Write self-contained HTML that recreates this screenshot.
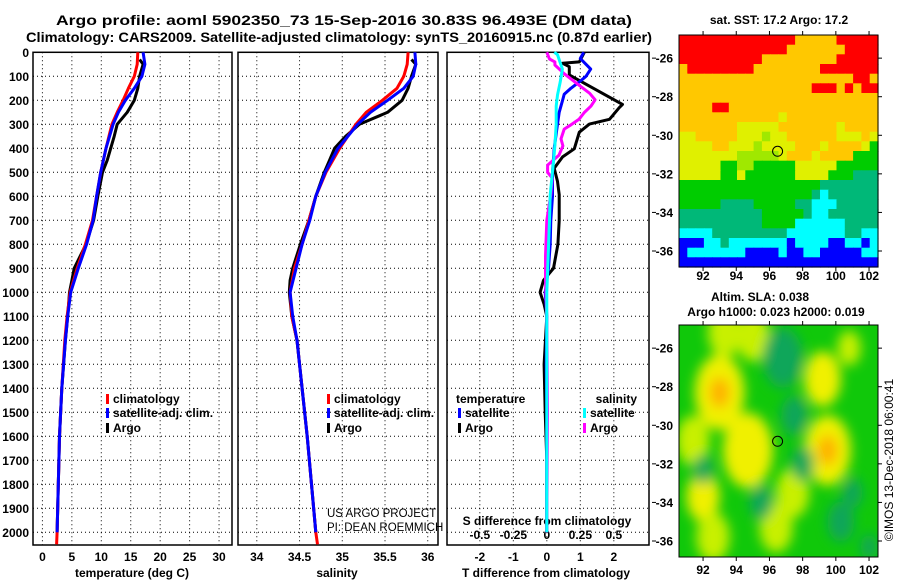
<!DOCTYPE html>
<html><head><meta charset="utf-8"><style>
body{margin:0;background:#fff}
svg{display:block;font-family:"Liberation Sans",Arial,sans-serif;font-weight:bold}
</style></head><body>
<svg id="fig" width="900" height="580" viewBox="0 0 900 580" xmlns="http://www.w3.org/2000/svg">
<defs>
<filter id="blur" x="-50%" y="-50%" width="200%" height="200%"><feGaussianBlur stdDeviation="6"/></filter>
<clipPath id="clipM2"><rect x="679" y="325" width="199" height="232"/></clipPath>
</defs>
<text x="344" y="25" text-anchor="middle" font-size="13.5" textLength="576" lengthAdjust="spacingAndGlyphs">Argo profile: aoml 5902350_73 15-Sep-2016 30.83S 96.493E (DM data)</text>
<text x="339" y="42" text-anchor="middle" font-size="13.5" textLength="626" lengthAdjust="spacingAndGlyphs">Climatology: CARS2009. Satellite-adjusted climatology: synTS_20160915.nc (0.87d earlier)</text>
<text x="779" y="24" text-anchor="middle" font-size="12">sat. SST: 17.2 Argo: 17.2</text>
<text x="760" y="301" text-anchor="middle" font-size="12">Altim. SLA: 0.038</text>
<text x="776" y="316" text-anchor="middle" font-size="12">Argo h1000: 0.023 h2000: 0.019</text>
<text transform="translate(893,460) rotate(-90)" text-anchor="middle" font-size="12" font-weight="normal">©IMOS 13-Dec-2018 06:00:41</text>
<g id="layer"></g>
</svg>
<script>
// ---- profile data ----
const depthClim=[0,50,100,150,200,250,300,400,500,600,700,800,900,1000,1100,1200,1400,1600,1800,2000,2050];
const climT=[16.2,16.1,15.6,14.6,13.7,12.7,11.8,10.8,9.9,9.2,8.5,7.3,5.9,4.7,4.2,3.8,3.3,2.9,2.7,2.5,2.4];
const satT=[17.1,17.4,16.9,15.6,14.1,12.9,12.0,10.8,9.9,9.2,8.6,7.5,6.1,4.8,4.3,3.9,3.3,2.9,2.7,2.5];
const depthArgo=[30,50,100,150,200,250,300,350,400,450,500,600,700,800,900,950,1000,1100,1200,1400,1600,1800,2000];
const argoT=[16.5,17.1,16.5,16.2,15.6,14.4,12.7,12.2,11.6,11.0,10.2,9.4,8.7,7.4,5.4,5.0,4.6,4.3,3.9,3.3,2.9,2.7,2.5];
const climS=[35.77,35.76,35.72,35.64,35.47,35.28,35.16,34.97,34.81,34.69,34.61,34.53,34.44,34.39,34.41,34.47,34.53,34.59,34.64,34.69,34.71];
const satS=[35.85,35.86,35.83,35.72,35.53,35.33,35.18,34.95,34.80,34.69,34.62,34.53,34.46,34.39,34.42,34.47,34.53,34.59,34.64,34.69];
const argoS=[35.81,35.86,35.81,35.77,35.70,35.53,35.20,35.04,34.91,34.85,34.79,34.69,34.61,34.51,34.42,34.39,34.38,34.41,34.47,34.53,34.59,34.64,34.69];
const depthSatTd=[0,26,50,70,100,120,150,175,200,250,300,400,500,600,700,800,900,1000,1100,1300,1500,1700,2000];
const satTdiff=[1.1,1.0,1.17,1.31,1.17,1.0,0.72,0.52,0.47,0.37,0.32,0.22,0.17,0.17,0.12,0.1,0.05,-0.05,0,-0.02,0,0,0];
const depthArgoTd=[0,40,46,60,94,217,231,279,299,333,402,436,483,538,593,702,800,900,950,1000,1050,1100,1300,1500,1700,2000];
const argoTdiff=[1.12,0.97,0.47,0.67,0.67,2.26,2.16,1.87,1.27,0.97,0.82,0.47,0.22,0.32,0.37,0.37,0.33,0.2,-0.1,-0.2,-0.08,0,-0.08,-0.05,0,0];
const depthArgoSd=[0,28,40,53,89,137,171,198,224,251,279,306,320,361,390,429,470,500,524,593,700,850,950,1100,1500,2000];
const argoSdiff=[0,0.02,0.06,0.06,0.13,0.24,0.32,0.36,0.33,0.28,0.24,0.17,0.13,0.106,0.12,0.09,0.006,0.006,0.04,0.03,0,-0.01,-0.01,0,0.005,0];
const depthSatSd=[0,10,70,124,178,224,300,388,456,593,700,1000,1500,2000];
const satSdiff=[0.056,0.08,0.116,0.10,0.08,0.07,0.07,0.06,0.05,0.025,0.02,0,0,0];
const depthTicks=[0,100,200,300,400,500,600,700,800,900,1000,1100,1200,1300,1400,1500,1600,1700,1800,1900,2000];
const tTicks=[0,5,10,15,20,25,30];
const sTicks=[34,34.5,35,35.5,36];
const sTickLabels=["34","34.5","35","35.5","36"];
const dTTicks=[-2,-1,0,1,2];
const dSTicks=[-0.5,-0.25,0,0.25,0.5];
const dSTickLabels=["-0.5","-0.25","0","0.25","0.5"];
// ---- map data ----
const lonTicks=[92,94,96,98,100,102];
const latTicks=[-26,-28,-30,-32,-34,-36];
const sstRows=[
"RRRRRRRRRRRRRROOOOORRRRR",
"RRRRRRRRRRRRROOOOOOORRRR",
"RRRRRRRRRROOOOOOOOORRRRR",
"ORRRRRRRROOOOOOOORRRRRRR",
"OOOOOOOOOOOOOOOOOOOOORRO",
"OOOOOOOOOOOOOOOORRRORORR",
"OOOOOOOOOOOOOOOOOOOOOOOO",
"OOOORROOOOOOOOOOOOOOOOOO",
"OOOOOOOOOOOOYOOOOOOOOOOO",
"OOOOOOOYYYYYOOOOOOOYOOOO",
"YYOOOOOYYYLYYOOOOOOYYYOY",
"YYYYOOYYYLYYYYOOOYOOOOYG",
"YYYYYYYLLLLLYOOOYOOOOGGG",
"YYYYYGGLLGGGGGYYYYYGGGGG",
"YYYYYGGYGGGGGGYYYYGGGTTT",
"GGGGGGGGGGGGGGGGGTTTTTTT",
"GGGGGGGGGGGGGGGGTCTTTTTT",
"GGGGGTTTTGGGGGTTCCCTTTTT",
"TTTTTTTTTTGGGGGTCCTTTTTT",
"TTTTTTTTTTGGGGCCCCCCTTTT",
"CCCCTTTTTTTTTCCCCCCCTTCC",
"BBBCCTCCCCCCCBCCCCBBCCBC",
"BCCCCCCCBBBBCBBCCBBBBBCC",
"BBBBBBBBBBBBBBBBBBBBBBBB"];
const slaBlobLon=[93,93,94.7,94.7,99.5,99.5,99.2,92,91.4,93.3,95,97.4,100.8,96.4,92.6,97.5,98,95.5,92,102,101,96.8,100.3];
const slaBlobLat=[-28.3,-28.3,-31.3,-31.3,-31.3,-31.3,-27.6,-33.7,-30.8,-25.2,-25.4,-33.5,-26,-35.3,-35.8,-29.5,-32,-34,-32.3,-36.3,-33.5,-26.5,-35];
const slaBlobVal=[0.6,0.9,0.6,0.7,0.6,0.9,0.6,0.6,0.5,0.55,0.55,0.5,0.4,0.5,0.4,-0.6,-0.5,-0.6,-0.5,-0.6,-0.4,-0.35,-0.3];
const slaBlobSize=[1.5,0.6,1.5,0.7,1.4,0.6,1.1,1.0,1.0,1.0,1.0,1.0,0.7,1.0,1.0,0.8,0.7,0.7,0.6,0.5,0.6,1.2,0.8];
const argoLon=96.49, argoLat=-30.83;

const NS="http://www.w3.org/2000/svg";
const L=document.getElementById('layer');
function mk(tag,at,parent){const e=document.createElementNS(NS,tag);for(const k in at)e.setAttribute(k,at[k]);(parent||L).appendChild(e);return e;}
const yTop=52.3, pxPer100=24.0, yBot=545;
const yD=d=>Math.min(yBot,yTop+d*pxPer100/100);
const panels=[
 {x0:33,x1:232,v0:-1.6,v1:32.2,name:'temperature'},
 {x0:238,x1:438,v0:33.78,v1:36.12,name:'salinity'},
 {x0:447,x1:649,v0:-2.98,v1:3.05,name:'difference'}];
function sx(p,v){return p.x0+(v-p.v0)/(p.v1-p.v0)*(p.x1-p.x0);}
const P3S={x0:447,x1:649,v0:-2.98/4,v1:3.05/4};

panels.forEach((p,i)=>{
 const g=mk('g',{});
 
 
 const vt= i==0?tTicks:(i==1?sTicks:dTTicks);
 vt.forEach(v=>{const x=sx(p,v);const ln=mk('line',{x1:x,x2:x,y1:yTop,y2:yBot,stroke:'#000','stroke-width':1,'stroke-dasharray':'1,3'},g);
  
  });
 depthTicks.slice(1).forEach(d=>{const y=yD(d);const ln=mk('line',{x1:p.x0,x2:p.x1,y1:y,y2:y,stroke:'#000','stroke-width':1,'stroke-dasharray':'1,3'},g);
  
  });
 const r=mk('rect',{x:p.x0,y:yTop,width:p.x1-p.x0,height:yBot-yTop,fill:'none',stroke:'#000','stroke-width':1.5},g);
 
 
});
depthTicks.forEach(d=>{const t=mk('text',{x:29,y:yD(d)+4.5,'text-anchor':'end','font-size':12});t.textContent=d;
 
 });
function xl(p,vals,labs,y,name){vals.forEach((v,k)=>{const t=mk('text',{x:sx(p,v),y:y,'text-anchor':'middle','font-size':12});t.textContent=labs?labs[k]:v;
 
 });}
xl(panels[0],tTicks,null,561,'temperature-tick-label');
xl(panels[1],sTicks,sTickLabels,561,'salinity-tick-label');
xl(panels[2],dTTicks,null,561,'t-diff-tick-label');
xl(P3S,dSTicks,dSTickLabels,539,'s-diff-tick-label');
function txt(x,y,s,name,at){const t=mk('text',Object.assign({x:x,y:y,'font-size':12},at||{}));t.textContent=s;
 
 return t;}
txt(132,577,'temperature (deg C)','temperature-axis-title',{'text-anchor':'middle'});
txt(337,577,'salinity','salinity-axis-title',{'text-anchor':'middle'});
txt(546,577,'T difference from climatology','t-diff-axis-title',{'text-anchor':'middle'});
txt(547,525,'S difference from climatology','s-diff-axis-title',{'text-anchor':'middle'});
txt(327,517,'US ARGO PROJECT','project-credit',{'font-weight':'normal','font-size':11.5});
txt(327,531,'PI: DEAN ROEMMICH','pi-credit',{'font-weight':'normal','font-size':11.5});

function line(p,depths,vals,color,name){
 const pts=vals.map((v,k)=>sx(p,v).toFixed(1)+','+yD(depths[k]).toFixed(1)).join(' ');
 const e=mk('polyline',{points:pts,fill:'none',stroke:color,'stroke-width':3,'stroke-linejoin':'round'});
 
 }
line(panels[0],depthArgo,argoT,'#000','argo-temperature-line');
line(panels[0],depthClim,climT,'#f00','climatology-temperature-line');
line(panels[0],depthClim.slice(0,satT.length),satT,'#00f','satellite-temperature-line');
line(panels[1],depthArgo,argoS,'#000','argo-salinity-line');
line(panels[1],depthClim,climS,'#f00','climatology-salinity-line');
line(panels[1],depthClim.slice(0,satS.length),satS,'#00f','satellite-salinity-line');
line(panels[2],depthArgoTd,argoTdiff,'#000','argo-t-diff-line');
line(panels[2],depthSatTd,satTdiff,'#00f','satellite-t-diff-line');
line(P3S,depthArgoSd,argoSdiff,'#f0f','argo-s-diff-line');
line(P3S,depthSatSd,satSdiff,'#0ff','satellite-s-diff-line');

function leg(x,y,color,label,name,anchorEnd){
 const m=mk('rect',{x:anchorEnd?x+3:x,y:y-9,width:3,height:10,fill:color});
 
 
 txt(anchorEnd?x:x+7,y,label,name+'-label',anchorEnd?{'text-anchor':'end'}:{});}
leg(106,403,'#f00','climatology','legend-climatology-t');
leg(106,417,'#00f','satellite-adj. clim.','legend-satellite-t');
leg(106,432,'#000','Argo','legend-argo-t');
leg(327,403,'#f00','climatology','legend-climatology-s');
leg(327,417,'#00f','satellite-adj. clim.','legend-satellite-s');
leg(327,432,'#000','Argo','legend-argo-s');
txt(456,403,'temperature','legend-temperature-heading');
leg(458,417,'#00f','satellite','legend-satellite-tdiff');
leg(458,432,'#000','Argo','legend-argo-tdiff');
txt(637,403,'salinity','legend-salinity-heading',{'text-anchor':'end'});
leg(583,417,'#0ff','satellite','legend-satellite-sdiff',false);
leg(583,432,'#f0f','Argo','legend-argo-sdiff',false);

// maps
const MX0=679,MX1=878,lon0=90.55,lon1=102.54,lat0=-24.8,lat1=-36.83;
const mxl=lon=>MX0+(lon-lon0)/(lon1-lon0)*(MX1-MX0);
const pxPerLon=(MX1-MX0)/(lon1-lon0);
function map(y0,y1){return lat=>y0+(lat-lat0)/(lat1-lat0)*(y1-y0);}
const my1=map(35,267), my2=map(325,557);
const pxPerLat=232/(lat0-lat1);
const colors={R:'#ff0000',O:'#ffc800',Y:'#e0f000',L:'#a0e800',G:'#00cc00',T:'#00b878',C:'#00ffff',B:'#0000ff'};
const nr=sstRows.length,nc=sstRows[0].length;
sstRows.forEach((row,r)=>{for(let c=0;c<nc;c++){
 const la=lat0+(lat1-lat0)*r/nr, lo=lon0+(lon1-lon0)*c/nc;
 const x=mxl(lo), y=my1(la);
 const cell=mk('rect',{x:x.toFixed(1),y:y.toFixed(1),width:((MX1-MX0)/nc+0.6).toFixed(1),height:((267-35)/nr+0.6).toFixed(1),fill:colors[row[c]]});
 
 }});
const g2=mk('g',{'clip-path':'url(#clipM2)'});


const bg=mk('rect',{x:MX0,y:325,width:MX1-MX0,height:232,fill:'#10c80a'},g2);


const gb=mk('g',{filter:'url(#blur)'},g2);
slaBlobVal.forEach((v,k)=>{
 const col=v>0.8?'#ffb000':(v>0.55?'#f0f000':(v>0?'#c8f000':'#10a068'));
 const s=slaBlobSize[k];
 const e=mk('ellipse',{cx:mxl(slaBlobLon[k]),cy:my2(slaBlobLat[k]),rx:s*pxPerLon,ry:s*pxPerLat*1.3,fill:col,opacity:v>0?1:0.85},gb);
 
 });
[[35,267,my1,280,'sst'],[325,557,my2,574,'sla']].forEach(([y0,y1,my,ly,nm])=>{
 const f=mk('rect',{x:MX0,y:y0,width:MX1-MX0,height:y1-y0,fill:'none',stroke:'#000','stroke-width':1});
 
 
 lonTicks.forEach(lo=>{const x=mxl(lo);
  mk('line',{x1:x,x2:x,y1:y0-4,y2:y0,stroke:'#000'});
  mk('line',{x1:x,x2:x,y1:y1,y2:y1+4,stroke:'#000'});
  txt(x,ly,String(lo),nm+'-lon-label',{'text-anchor':'middle'});});
 latTicks.forEach(la=>{const y=my(la);
  mk('line',{x1:652,x2:656,y1:y,y2:y,stroke:'#000'});
  mk('line',{x1:MX1,x2:MX1+4,y1:y,y2:y,stroke:'#000'});
  txt(673,y+4.5,String(la),nm+'-lat-label',{'text-anchor':'end'});});
 const c=mk('circle',{cx:mxl(argoLon),cy:my(argoLat),r:5,fill:'none',stroke:'#000','stroke-width':1});
 
 
});
</script>
</body></html>
